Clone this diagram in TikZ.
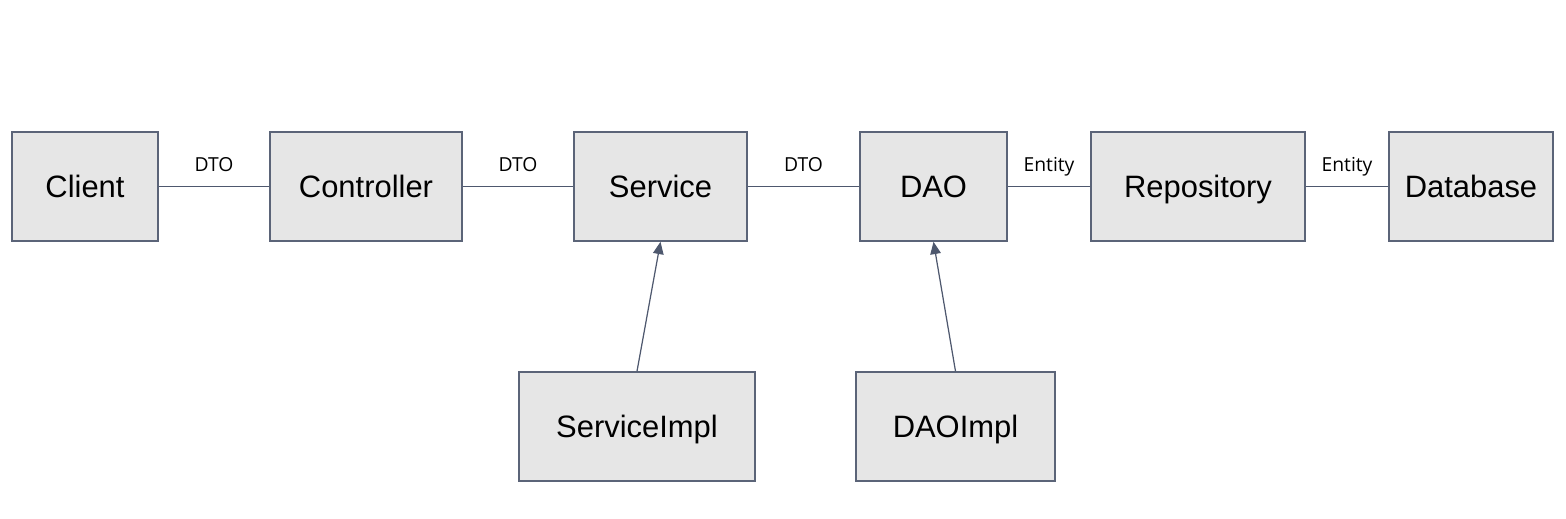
\documentclass[tikz,border=0pt]{standalone}
\usepackage{fontspec}
\setmainfont{Liberation Sans}
\newfontfamily\labelfont{Open Sans}
\usepackage{xcolor}
\usepackage{tikz}
\usetikzlibrary{arrows.meta,positioning,calc}

\definecolor{boxfill}{HTML}{E6E6E6}
\definecolor{boxline}{HTML}{5B6478}
\definecolor{linkcol}{HTML}{4E586E}

\tikzset{
    layer/.style={draw=boxline, fill=boxfill, line width=0.9pt, minimum height=2.18cm,
        font=\fontsize{17.6}{20}\selectfont, inner sep=0pt,
        text height=12.8pt, text depth=0pt},
    link/.style={draw=linkcol, line width=0.7pt},
    implarrow/.style={link, -{Triangle[length=7pt,width=6pt]}},
    linklabel/.style={font=\labelfont\fontsize{11}{13}\selectfont, inner sep=0pt}
}

\begin{document}
\begin{tikzpicture}[x=0.02cm, y=-0.02cm]
    \useasboundingbox (0,0) rectangle (1566,518);

    % Main chain of layers
    \node[layer, minimum width=2.92cm] (client)     at (85,186.5)   {Client};
    \node[layer, minimum width=3.84cm] (controller) at (366,186.5)  {Controller};
    \node[layer, minimum width=3.46cm] (service)    at (660.5,186.5){Service};
    \node[layer, minimum width=2.94cm] (dao)        at (933.5,186.5){DAO};
    \node[layer, minimum width=4.28cm] (repo)       at (1198,186.5) {Repository};
    \node[layer, minimum width=3.28cm] (db)         at (1471,186.5) {Database};

    % Implementations
    \node[layer, minimum width=4.72cm] (serviceimpl) at (637,426.5)   {ServiceImpl};
    \node[layer, minimum width=3.98cm] (daoimpl)     at (955.5,426.5) {DAOImpl};

    % Connectors with transferred objects
    \foreach \a/\b/\obj in {client/controller/DTO, controller/service/DTO,
                            service/dao/DTO, dao/repo/Entity, repo/db/Entity} {
        \draw[link] (\a.east) -- (\b.west)
            node[linklabel, midway, anchor=base, yshift=0.3cm] {\obj};
    }

    % Implementation arrows
    \draw[implarrow] (serviceimpl.north) -- (service.south);
    \draw[implarrow] (daoimpl.north) -- (dao.south);
\end{tikzpicture}
\end{document}
